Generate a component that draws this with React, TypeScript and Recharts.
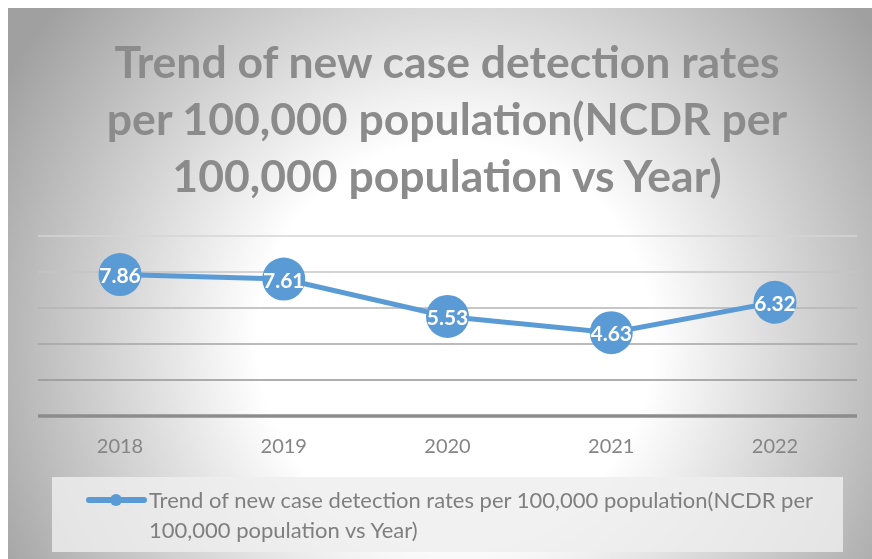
import React from 'react'
import { LineChart, Line, XAxis, YAxis, ReferenceLine, LabelList } from 'recharts'

const years = ['2018', '2019', '2020', '2021', '2022']
const ncdr = [7.86, 7.61, 5.53, 4.63, 6.32]
const yTicks = [0, 2, 4, 6, 8, 10]
const titleLines = [
  'Trend of new case detection rates',
  'per 100,000 population(NCDR per',
  '100,000 population vs Year)',
]
const seriesName =
  'Trend of new case detection rates per 100,000 population(NCDR per 100,000 population vs Year)'

const BLUE = '#5B9BD5'
const FONT = 'Lato, "Open Sans", sans-serif'
// gridlines get darker towards the axis, like the original
const gridColors = ['#d4d4d4', '#c4c4c4', '#b4b4b4', '#a4a4a4', '#959595']

const data = years.map((year, i) => ({ year, value: ncdr[i] }))

if (typeof document !== 'undefined') {
  document.documentElement.style.overflow = 'hidden'
}

const renderValue = (props: any) => {
  const { x, y, value } = props
  return (
    <text
      x={x}
      y={y}
      textAnchor="middle"
      dominantBaseline="central"
      fill="#fff"
      fontFamily={FONT}
      fontWeight={700}
      fontSize={21}
    >
      {value}
    </text>
  )
}

function LegendBox() {
  return (
    <div
      style={{
        position: 'absolute',
        left: 44,
        top: 469,
        width: 791,
        height: 75,
        background: 'rgba(238,238,238,0.82)',
        fontFamily: FONT,
        fontSize: 22,
        color: '#7f7f7f',
      }}
    >
      <svg width={62} height={14} style={{ position: 'absolute', left: 34, top: 16 }}>
        <line x1={3} y1={7} x2={58} y2={7} stroke={BLUE} strokeWidth={6} strokeLinecap="round" />
        <circle cx={30} cy={7} r={6} fill={BLUE} />
      </svg>
      <div style={{ position: 'absolute', left: 97, top: 8, width: 688, lineHeight: '30px' }}>
        {seriesName}
      </div>
    </div>
  )
}

export default function App() {
  return (
    <div
      style={{
        position: 'fixed',
        left: 8,
        top: 8,
        width: 864,
        height: 551,
        overflow: 'hidden',
        background:
          'radial-gradient(ellipse 520px 520px at 447px 332px, #ffffff 38%, #a0a0a0 100%)',
      }}
    >
      <div
        style={{
          position: 'absolute',
          left: 0,
          width: 878,
          top: 24,
          textAlign: 'center',
          fontFamily: FONT,
          fontWeight: 700,
          fontSize: 44.5,
          lineHeight: '57px',
          color: '#8b8b8b',
        }}
      >
        {titleLines.map((t) => (
          <div key={t}>{t}</div>
        ))}
      </div>
      <div style={{ position: 'absolute', left: 0, top: 0 }}>
        <LineChart
          width={864}
          height={551}
          data={data}
          margin={{ top: 228, right: 15, left: 30, bottom: 0 }}
        >
          <XAxis
            dataKey="year"
            padding={{ left: 82, right: 82 }}
            tickLine={false}
            axisLine={{ stroke: '#8c8c8c', strokeWidth: 3.5 }}
            tickMargin={17}
            tick={{ fontSize: 20, fill: '#858585', fontFamily: FONT }}
            height={143}
          />
          <YAxis hide domain={[0, 10]} ticks={yTicks} />
          {yTicks.slice(1).map((t, i) => (
            <ReferenceLine
              key={t}
              y={t}
              stroke={gridColors[gridColors.length - 1 - i]}
              strokeWidth={1.5}
            />
          ))}
          <Line
            dataKey="value"
            name={seriesName}
            stroke={BLUE}
            strokeWidth={5}
            dot={{ r: 21.5, fill: BLUE, strokeWidth: 0 }}
            activeDot={false}
            isAnimationActive={false}
          >
            <LabelList dataKey="value" content={renderValue} />
          </Line>
        </LineChart>
      </div>
      <LegendBox />
    </div>
  )
}
